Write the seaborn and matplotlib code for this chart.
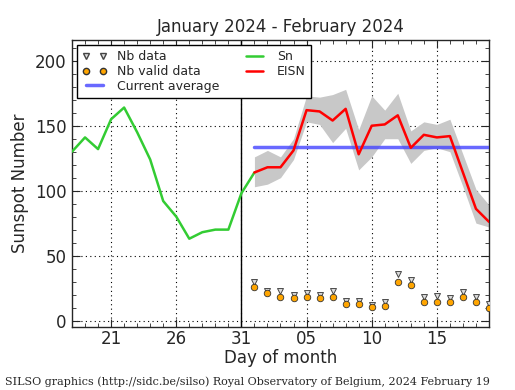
import numpy as np
import pandas as pd
import seaborn as sns
import matplotlib.pyplot as plt
from matplotlib.ticker import MultipleLocator
from matplotlib.lines import Line2D

# day numbers counted from 1 January 2024
sn_days = list(range(18, 33))
sn = [130, 141, 132, 155, 164, 145, 124, 92, 80, 63, 68, 70, 70, 98, 114]

eisn_days = list(range(32, 51))
eisn = [114, 118, 118, 131, 162, 161, 154, 163, 128, 150, 151, 158, 133, 143, 141, 142, 114, 86, 76]
eisn_upper = [126, 131, 126, 140, 173, 172, 174, 178, 147, 173, 162, 175, 146, 153, 151, 155, 128, 101, 89]
eisn_lower = [103, 105, 110, 124, 153, 151, 137, 148, 116, 126, 140, 140, 121, 131, 133, 130, 103, 75, 72]
nb_data = [30, 23, 23, 20, 21, 20, 23, 15, 15, 12, 14, 36, 31, 18, 19, 17, 22, 18, 13]
nb_valid = [26, 21, 18, 17, 18, 17, 18, 13, 13, 10.5, 11.5, 29.5, 27, 14, 14, 14, 18, 14, 10]
current_average = 133.6

tick_days = [21, 26, 31, 36, 41, 46]
tick_labels = ['21', '26', '31', '05', '10', '15']

sns.set_style("ticks")
plt.rcParams['font.family'] = ['DejaVu Sans']

sn_df = pd.DataFrame({"day": sn_days, "value": sn})
eisn_df = pd.DataFrame({"day": eisn_days, "value": eisn, "upper": eisn_upper,
                        "lower": eisn_lower, "nb": nb_data, "valid": nb_valid})

fig = plt.figure(figsize=(5.15, 3.9), dpi=100)
ax = fig.add_axes([0.1398, 0.1615, 0.8097, 0.7359])

ax.fill_between(eisn_df["day"], eisn_df["lower"], eisn_df["upper"], color='#c8c8c8', lw=0)
ax.plot([eisn_days[0], eisn_days[-1]], [current_average, current_average],
        color='#4444ff', alpha=0.8, lw=2.5, zorder=3)
sns.lineplot(data=sn_df, x="day", y="value", ax=ax, color='#33cc33', lw=1.8, zorder=4)
sns.lineplot(data=eisn_df, x="day", y="value", ax=ax, color='red', lw=1.8, zorder=5)
sns.scatterplot(data=eisn_df, x="day", y="nb", ax=ax, marker='v', s=18,
                color='#dddddd', edgecolor='#444444', linewidth=0.7, zorder=6)
sns.scatterplot(data=eisn_df, x="day", y="valid", ax=ax, marker='o', s=22,
                color='orange', edgecolor='#333333', linewidth=0.6, zorder=7)
ax.axvline(31, color='black', lw=1.0, zorder=2)

ax.set_xlim(18, 50)
ax.set_ylim(-5, 216)
ax.set_xticks(tick_days)
ax.set_xticklabels(tick_labels)
ax.xaxis.set_minor_locator(MultipleLocator(1))
ax.yaxis.set_major_locator(MultipleLocator(50))
ax.yaxis.set_minor_locator(MultipleLocator(10))
ax.tick_params(which='both', direction='in', top=True, right=True, labelsize=12)
ax.tick_params(which='major', length=6)
ax.tick_params(which='minor', length=3)
ax.tick_params(axis='x', which='both', pad=2)
ax.tick_params(axis='y', which='both', pad=4)
ax.grid(which='major', color='black', linestyle=(0, (1, 3)), lw=0.8)
for s in ax.spines.values():
    s.set_linewidth(1.0)

ax.set_title("January 2024 - February 2024", fontsize=12)
ax.set_xlabel("Day of month", fontsize=12, labelpad=1)
ax.set_ylabel("Sunspot Number", fontsize=12)

handles = [
    Line2D([], [], ls='none', marker='v', markersize=4, markerfacecolor='#dddddd',
           markeredgecolor='#444444'),
    Line2D([], [], ls='none', marker='o', markersize=4.5, markerfacecolor='orange',
           markeredgecolor='#333333'),
    Line2D([], [], color='#4444ff', alpha=0.8, lw=2.5),
    Line2D([], [], color='#33cc33', lw=1.8),
    Line2D([], [], color='red', lw=1.8),
]
labels = ["Nb data", "Nb valid data", "Current average", "Sn", "EISN"]
leg = ax.legend(handles, labels, ncol=2, loc='upper left', fontsize=9, numpoints=2,
                frameon=True, fancybox=False, edgecolor='black', framealpha=1,
                borderaxespad=0.4, columnspacing=1.8, handletextpad=0.8,
                labelspacing=0.15)
leg.get_frame().set_linewidth(1.0)

fig.text(0.01, 0.012, "SILSO graphics (http://sidc.be/silso) Royal Observatory of Belgium, 2024 February 19",
         family='DejaVu Serif', fontsize=8)

fig.savefig("out.png", dpi=100)
